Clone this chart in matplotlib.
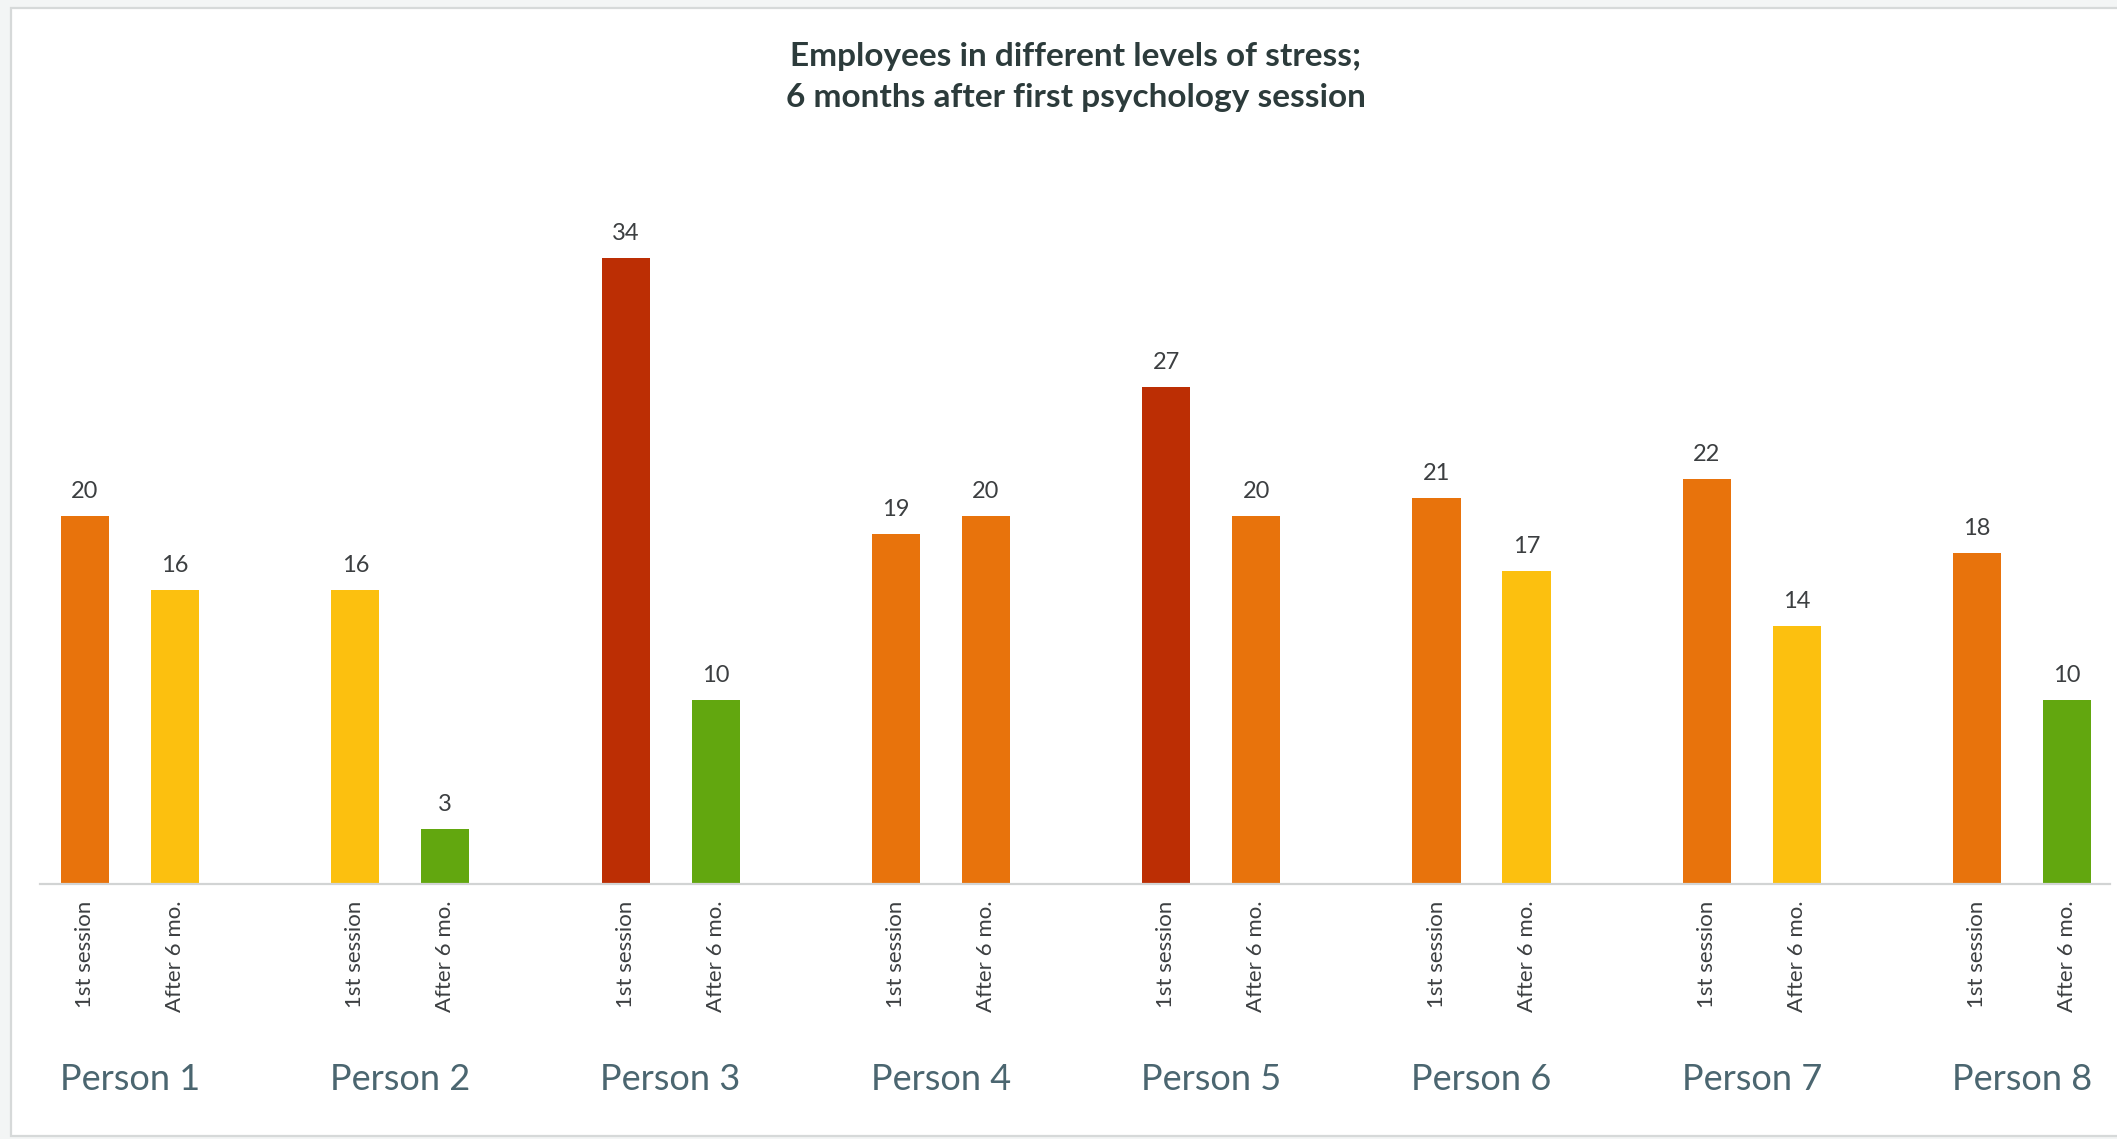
import matplotlib
import matplotlib.pyplot as plt
import matplotlib.transforms as mtransforms
from matplotlib.patches import Rectangle
import numpy as np

matplotlib.use("Agg")
plt.rcParams["font.family"] = ["Lato", "DejaVu Sans"]

people = [f"Person {i}" for i in range(1, 9)]
bar_labels = ["1st session", "After 6 mo."]
first_session = [20, 16, 34, 19, 27, 21, 22, 18]
after_6_months = [16, 3, 10, 20, 20, 17, 14, 10]

W, H = 2117, 1139
DPI = 100


def stress_color(v):
    # colour follows the stress level of the bar
    if v <= 10:
        return "#62a70f"
    if v <= 17:
        return "#fcc00f"
    if v <= 25:
        return "#e8730c"
    return "#bc2e04"


fig = plt.figure(figsize=(W / DPI, H / DPI), dpi=DPI)
fig.patch.set_facecolor("#f3f5f5")
fig.patches.append(
    Rectangle((11 / W, 3 / H), 1.0, 1 - 11 / H, transform=fig.transFigure,
              facecolor="white", edgecolor="#d6d9d9", linewidth=1.6, zorder=-5)
)

# axes placed in pixel terms: baseline at y=884, top at y=200
ax = fig.add_axes([40 / W, (H - 884) / H, (2110 - 40) / W, (884 - 200) / H])
ax.set_facecolor("none")

x = np.arange(len(people))
offset = 0.1665
width = 0.178

for vals, dx in ((first_session, -offset), (after_6_months, offset)):
    bars = ax.bar(x + dx, vals, width=width,
                  color=[stress_color(v) for v in vals], zorder=2)
    for b, v in zip(bars, vals):
        ax.annotate(str(v), (b.get_x() + b.get_width() / 2, v),
                    xytext=(0, 10), textcoords="offset points",
                    ha="center", va="bottom", fontsize=17, color="#3c3f41")

ax.set_xlim(-0.333, 7.325)
ax.set_ylim(0, 37.17)

ticks = np.concatenate([x - offset, x + offset])
labels = [bar_labels[0]] * len(x) + [bar_labels[1]] * len(x)
ax.set_xticks(ticks)
ax.set_xticklabels(labels, rotation=90, va="top", ha="center",
                   fontsize=16, color="#3c3f41")
ax.tick_params(axis="x", length=0, pad=12)
ax.set_yticks([])

for side in ("top", "right", "left"):
    ax.spines[side].set_visible(False)
ax.spines["bottom"].set_color("#d2d4d4")
ax.spines["bottom"].set_linewidth(1.6)

# person names under each pair of bars
trans = mtransforms.blended_transform_factory(ax.transData, fig.transFigure)
for xi, name in zip(x, people):
    ax.text(xi, 1 - 1079 / H, name, transform=trans, ha="center", va="center",
            fontsize=26, color="#4b6670")

fig.text(1076 / W, 1 - 77 / H,
         "Employees in different levels of stress;\n6 months after first psychology session",
         ha="center", va="center", fontsize=24, fontweight="bold",
         color="#2c3b3b", linespacing=1.5)

fig.savefig("out.png", dpi=DPI)
